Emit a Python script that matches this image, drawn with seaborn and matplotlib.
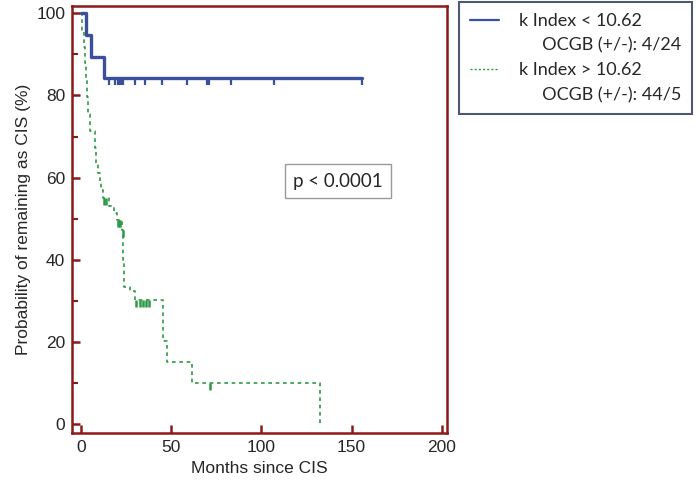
import numpy as np
import pandas as pd
import seaborn as sns
import matplotlib.pyplot as plt
from matplotlib.path import Path
from matplotlib.lines import Line2D

# k Index < 10.62 (blue, solid)
low_time = [0, 3.0, 5.5, 12.8, 156]
low_surv = [100, 94.74, 89.47, 84.21, 84.21]
low_cens_time = [15.5, 19.0, 20.5, 21.5, 22.5, 23.5, 29.7, 35.7, 45.0, 59.0, 70.0, 71.0, 83.0, 107.0, 156.0]
low_cens_surv = [84.21, 84.21, 84.21, 84.21, 84.21, 84.21, 84.21, 84.21, 84.21, 84.21, 84.21, 84.21, 84.21, 84.21, 84.21]

# k Index > 10.62 (green, dotted)
high_time = [0, 0.8, 1.5, 2.2, 2.8, 3.3, 4.0, 5.0, 7.8, 8.5, 9.6, 10.5, 11.2, 12.0, 15.5, 18.5,
             20.0, 22.5, 23.5, 23.8, 27.0, 30.0, 45.5, 47.5, 61.4, 132.5]
high_surv = [100, 95.9, 91.8, 87.8, 83.7, 79.6, 75.5, 71.4, 67.3, 63.3, 61.2, 59.2, 57.1, 55.1, 53.0, 51.4,
             49.7, 47.2, 40.0, 33.4, 32.3, 30.2, 20.1, 15.1, 10.1, 0]
high_cens_time = [13.0, 13.6, 20.5, 21.0, 21.5, 23.2, 30.5, 33.0, 34.5, 36.0, 37.5, 71.5]
high_cens_surv = [55.1, 55.1, 49.7, 49.7, 49.7, 47.2, 30.2, 30.2, 30.2, 30.2, 30.2, 10.1]

legend_labels = ["k Index < 10.62", "     OCGB (+/-): 4/24", "k Index > 10.62", "     OCGB (+/-): 44/5"]

blue = "#3b4f9c"
green = "#2e9a45"
red = "#8b1a1a"

sns.set_style("ticks")
plt.rcParams["font.family"] = ["Liberation Sans", "DejaVu Sans"]

fig = plt.figure(figsize=(7, 4.86), dpi=100)
ax = fig.add_axes([0.1033, 0.109, 0.5347, 0.8787])

sns.lineplot(x=high_time, y=high_surv, drawstyle="steps-post", estimator=None, sort=False,
             color=green, linewidth=1.2, linestyle=(0, (2.2, 2.2)), ax=ax)
sns.lineplot(x=low_time, y=low_surv, drawstyle="steps-post", estimator=None, sort=False,
             color=blue, linewidth=2.4, ax=ax)

# censor ticks hanging below the curve
cens_marker = Path([(0, 0), (0, -1)], [Path.MOVETO, Path.LINETO])
sns.scatterplot(x=low_cens_time, y=low_cens_surv, marker=cens_marker, s=90,
                color=blue, edgecolor=blue, linewidth=1.6, ax=ax, zorder=3)
sns.scatterplot(x=high_cens_time, y=high_cens_surv, marker=cens_marker, s=110,
                color=green, edgecolor=green, linewidth=1.8, ax=ax, zorder=3)

ax.set_xlim(-4.8, 202.7)
ax.set_ylim(-2.2, 101.8)
ax.set_xticks([0, 50, 100, 150, 200])
ax.set_yticks([0, 20, 40, 60, 80, 100])
ax.set_yticks([10, 30, 50, 70, 90], minor=True)
ax.tick_params(axis="both", which="major", direction="in", length=6, width=1.8, color=red,
               labelsize=12.5, pad=5)
ax.tick_params(axis="y", which="minor", direction="in", length=4, width=1.5, color=red)
for sp in ax.spines.values():
    sp.set_color(red)
    sp.set_linewidth(1.8)

ax.set_xlabel("Months since CIS", fontsize=12.5, labelpad=4)
ax.set_ylabel("Probability of remaining as CIS (%)", fontsize=12.5, labelpad=4)

ax.text(0.71, 0.59, "p < 0.0001", transform=ax.transAxes, ha="center", va="center",
        fontsize=13.5, family=["Lato", "DejaVu Sans"],
        bbox=dict(boxstyle="square,pad=0.45", fc="white", ec="#9a9a9a", lw=1.0))

handles = [Line2D([], [], color=blue, lw=1.6),
           Line2D([], [], color="none"),
           Line2D([], [], color=green, lw=1.0, linestyle=(0, (1.5, 1.5))),
           Line2D([], [], color="none")]
leg = fig.legend(handles, legend_labels, loc="upper left", bbox_to_anchor=(0.656, 0.995),
                 borderaxespad=0, frameon=True, fancybox=False, framealpha=1, handlelength=1.6,
                 handletextpad=1.1, labelspacing=0.47, borderpad=0.6,
                 prop={"family": ["Lato", "DejaVu Sans"], "size": 13})
leg.get_frame().set_edgecolor("#4e5870")
leg.get_frame().set_linewidth(1.5)

fig.savefig("out.png", dpi=100)
